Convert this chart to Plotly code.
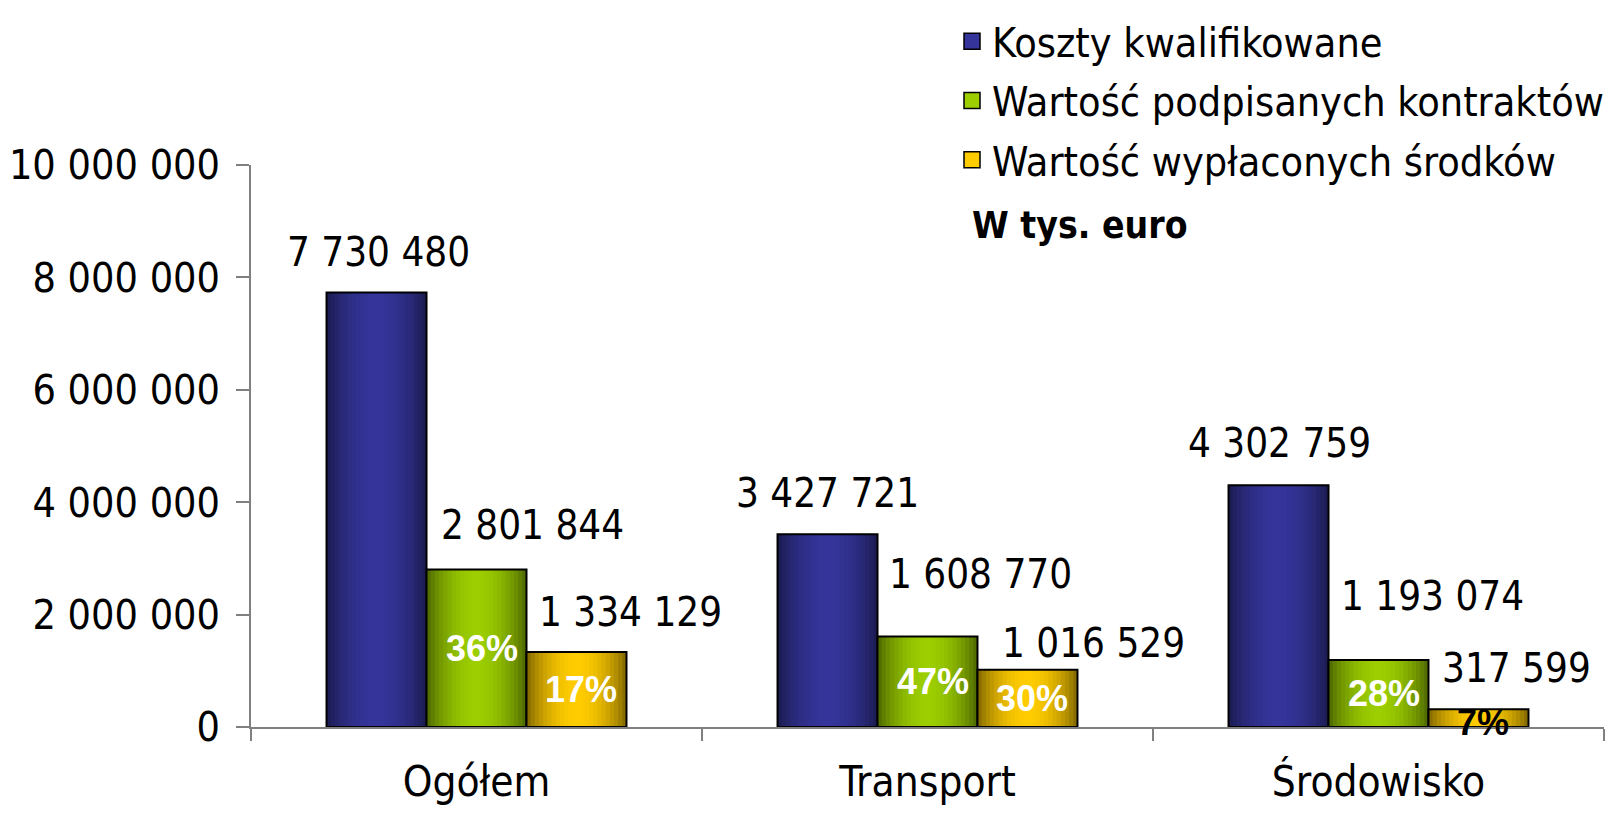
import math
import plotly.graph_objects as go

# ---------------- data ----------------
categories = ["Ogółem", "Transport", "Środowisko"]
series_names = ["Koszty kwalifikowane", "Wartość podpisanych kontraktów", "Wartość wypłaconych środków"]
koszty = [7730480, 3427721, 4302759]
kontrakty = [2801844, 1608770, 1193074]
wyplacone = [1334129, 1016529, 317599]
y_tick_values = [0, 2000000, 4000000, 6000000, 8000000, 10000000]
unit_label = "W tys. euro"

# ---------------- style ----------------
FONT = "DejaVu Sans Condensed, DejaVu Sans, sans-serif"
PCT_FONT = "Liberation Sans, Arial, sans-serif"
edge_colors = [(0x1a, 0x1a, 0x4c), (0x4a, 0x62, 0x00), (0x7c, 0x62, 0x00)]
center_colors = [(0x34, 0x34, 0x9a), (0x9c, 0xce, 0x00), (0xff, 0xcc, 0x00)]
BAR_W = 0.2217
offsets = [-1.5 * BAR_W, -0.5 * BAR_W, 0.5 * BAR_W]
N_STRIPES = 24

# label placement tweaks (px): [series][category]
value_xshift = [[2, 0, 1], [56, 53, 54], [54, 66, 38]]
value_yshift = [[41, 41, 42], [45, 63, 64], [40, 27, 41]]

series = [koszty, kontrakty, wyplacone]

# page body has an 8px margin, so the figure is offset by 8px in the window
W, H = 1602, 805
L, R, T, B = 243, 6, 157, 86
pw, ph = W - L - R, H - T - B


def mix(a, b, f):
    return "rgb(%d,%d,%d)" % tuple(round(a[i] + (b[i] - a[i]) * f) for i in range(3))


def fmt(v):
    return f"{v:,}".replace(",", " ")


fig = go.Figure()

# gradient stripes + outlines
for s in range(3):
    for k in range(N_STRIPES):
        t = (k + 0.5) / N_STRIPES
        f = math.sin(math.pi * t) ** 0.8
        w = BAR_W / N_STRIPES
        fig.add_trace(go.Bar(
            x=categories, y=series[s],
            width=w * (1.0 if k == N_STRIPES - 1 else 1.4),
            offset=offsets[s] + k * w,
            marker=dict(color=mix(edge_colors[s], center_colors[s], f), line=dict(width=0)),
            showlegend=False, hoverinfo="skip"))
    fig.add_trace(go.Bar(
        x=categories, y=series[s], width=BAR_W, offset=offsets[s], name=series_names[s],
        marker=dict(color="rgba(0,0,0,0)", line=dict(color="black", width=2)),
        showlegend=False, hoverinfo="skip"))

# legend entries
for s in range(3):
    fig.add_trace(go.Scatter(
        x=[None], y=[None], mode="markers", name=series_names[s], legendgroup=f"g{s}",
        marker=dict(symbol="square", size=16, color=mix(edge_colors[s], center_colors[s], 1),
                    line=dict(color="black", width=1.5)),
        showlegend=True, hoverinfo="skip"))

annotations = []
for s in range(3):
    for i, v in enumerate(series[s]):
        xc = i + offsets[s] + BAR_W / 2
        annotations.append(dict(
            x=xc, y=v, xref="x", yref="y", text=fmt(v), showarrow=False,
            xanchor="center", yanchor="middle",
            xshift=value_xshift[s][i], yshift=value_yshift[s][i],
            font=dict(family=FONT, size=40, color="black")))

# percentage labels
for s in (1, 2):
    for i, v in enumerate(series[s]):
        pct = round(100 * v / koszty[i])
        xc = i + offsets[s] + BAR_W / 2
        small = v < 500000
        annotations.append(dict(
            x=xc, y=v / 2, xref="x", yref="y", text=f"<b>{pct}%</b>", showarrow=False,
            xanchor="center", yanchor="middle", xshift=5, yshift=-4 if small else 0,
            font=dict(family=PCT_FONT, size=36, color="black" if small else "white")))

annotations.append(dict(
    x=(962 - L) / pw, y=(H - B - 217) / ph, xref="paper", yref="paper",
    text=f"<b>{unit_label}</b>", showarrow=False, xanchor="left", yanchor="middle",
    font=dict(family=FONT, size=37, color="black")))

fig.update_layout(
    width=W, height=H,
    margin=dict(l=L, r=R, t=T, b=B, autoexpand=False),
    paper_bgcolor="white", plot_bgcolor="white",
    barmode="overlay",
    separators=", ",
    font=dict(family=FONT, size=40, color="black"),
    showlegend=True,
    legend=dict(x=(944 - L) / pw, y=1 + T / ph, xanchor="left", yanchor="top",
                font=dict(family=FONT, size=41, color="black"),
                bgcolor="rgba(0,0,0,0)", tracegroupgap=3, itemwidth=30),
    annotations=annotations,
    xaxis=dict(type="category", categoryorder="array", categoryarray=categories,
               range=[-0.5, 2.5], showline=True, linecolor="#808080", linewidth=1.5,
               ticks="outside", tickson="boundaries", ticklen=12, tickcolor="#808080",
               tickwidth=1.5, showgrid=False, zeroline=False, automargin=False,
               tickfont=dict(family=FONT, size=42), ticklabelstandoff=17),
    yaxis=dict(range=[0, 10000000], showline=True, linecolor="#808080", linewidth=1.5,
               ticks="outside", ticklen=13, tickcolor="#808080", tickwidth=1.5,
               tickvals=y_tick_values, tickformat=",d", showgrid=False, zeroline=False,
               automargin=False,
               tickfont=dict(family=FONT, size=41), ticklabelstandoff=8),
)

fig.write_html("out.html")
